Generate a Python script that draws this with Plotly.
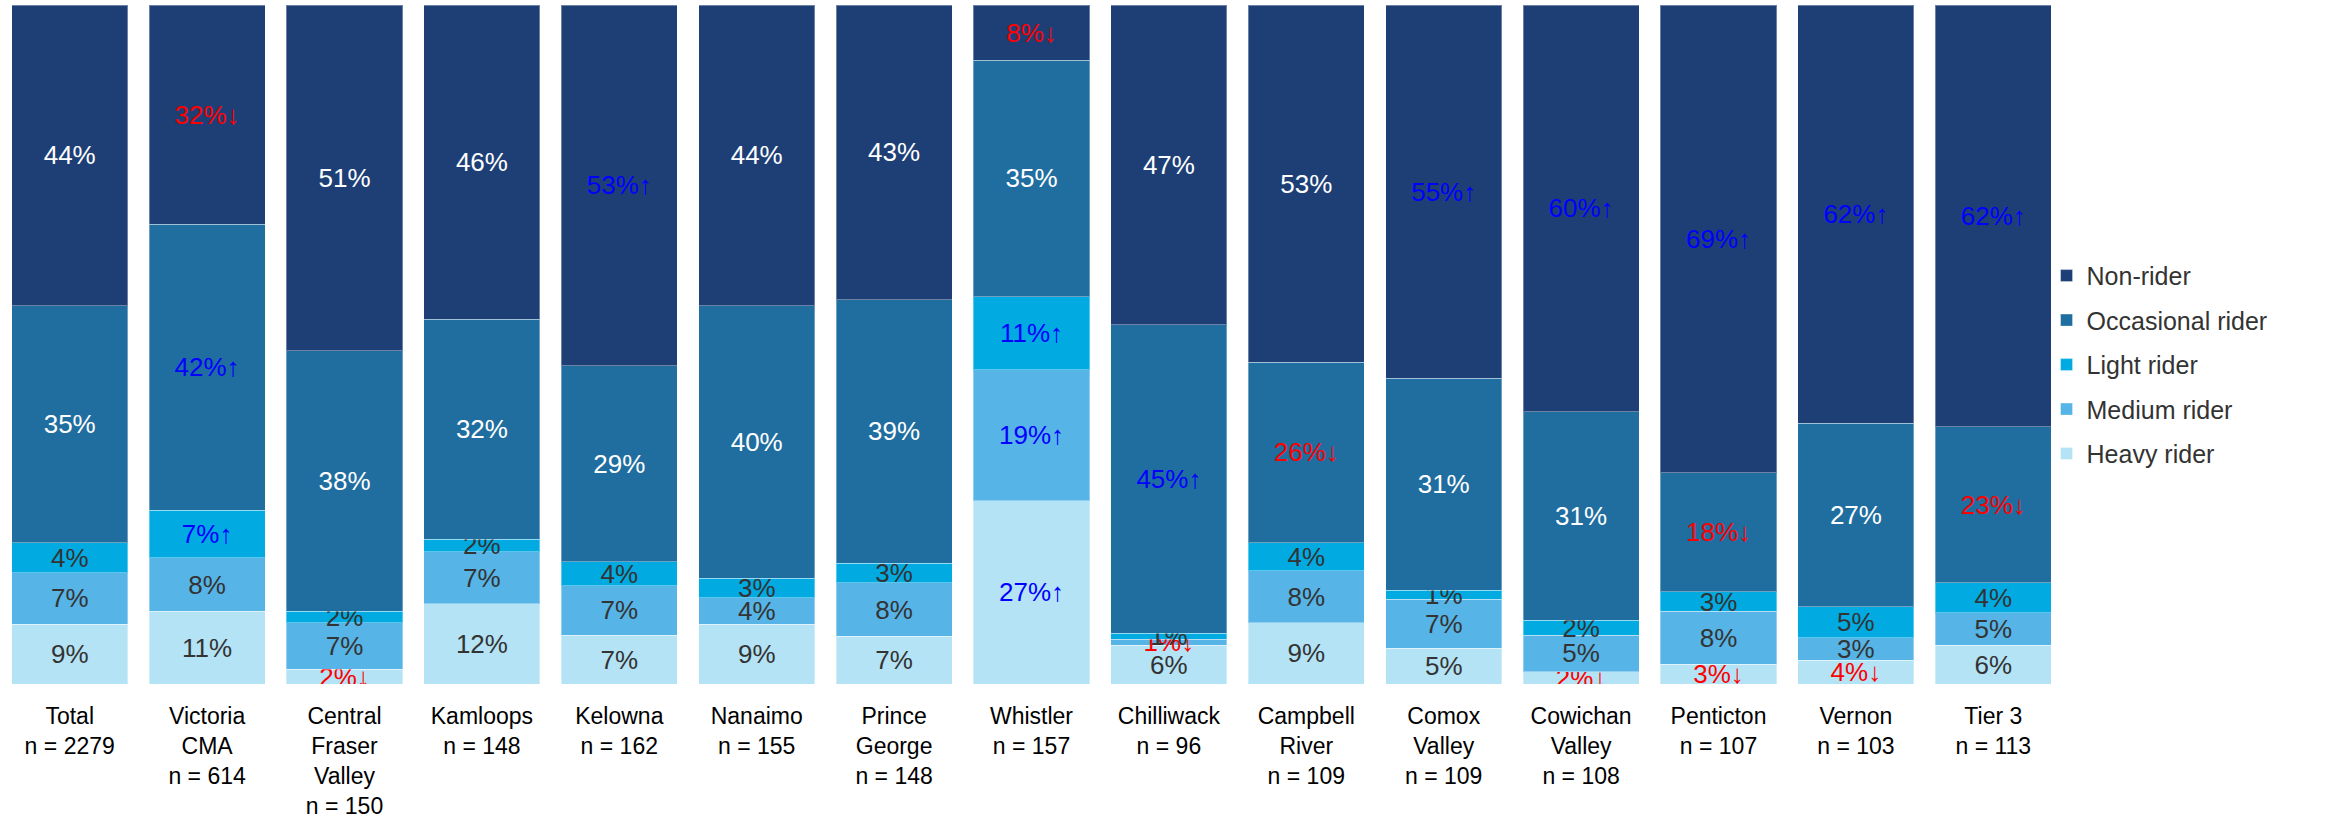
import plotly.graph_objects as go

categories = ["Total<br>n = 2279", "Victoria<br>CMA<br>n = 614", "Central<br>Fraser<br>Valley<br>n = 150",
              "Kamloops<br>n = 148", "Kelowna<br>n = 162", "Nanaimo<br>n = 155", "Prince<br>George<br>n = 148",
              "Whistler<br>n = 157", "Chilliwack<br>n = 96", "Campbell<br>River<br>n = 109",
              "Comox<br>Valley<br>n = 109", "Cowichan<br>Valley<br>n = 108", "Penticton<br>n = 107",
              "Vernon<br>n = 103", "Tier 3<br>n = 113"]

heavy      = [8.8, 10.7, 2.2, 11.8, 7.2, 8.8, 7.0, 27.0, 5.7, 9.0, 5.3, 1.8, 2.9, 3.5, 5.7]
medium     = [7.6, 7.9, 6.8, 7.7, 7.3, 3.9, 7.9, 19.3, 0.9, 7.7, 7.2, 5.4, 7.8, 3.3, 4.8]
light      = [4.4, 7.0, 1.7, 1.8, 3.5, 2.9, 2.9, 10.7, 0.9, 4.1, 1.3, 2.2, 2.9, 4.6, 4.4]
occasional = [34.9, 42.1, 38.4, 32.4, 28.9, 40.1, 38.8, 34.9, 45.4, 26.6, 31.2, 30.7, 17.5, 27.0, 23.0]
nonrider   = [44.3, 32.3, 50.9, 46.3, 53.1, 44.3, 43.4, 8.1, 47.1, 52.6, 55.0, 59.9, 68.9, 61.6, 62.1]

heavy_lbl  = ["9%", "11%", "2%↓", "12%", "7%", "9%", "7%", "27%↑", "6%", "9%", "5%", "2%↓", "3%↓", "4%↓", "6%"]
medium_lbl = ["7%", "8%", "7%", "7%", "7%", "4%", "8%", "19%↑", "1%↓", "8%", "7%", "5%", "8%", "3%", "5%"]
light_lbl  = ["4%", "7%↑", "2%", "2%", "4%", "3%", "3%", "11%↑", "1%", "4%", "1%", "2%", "3%", "5%", "4%"]
occ_lbl    = ["35%", "42%↑", "38%", "32%", "29%", "40%", "39%", "35%", "45%↑", "26%↓", "31%", "31%", "18%↓", "27%", "23%↓"]
non_lbl    = ["44%", "32%↓", "51%", "46%", "53%↑", "44%", "43%", "8%↓", "47%", "53%", "55%↑", "60%↑", "69%↑", "62%↑", "62%↑"]

RED = "#FF0000"
BLUE = "#0000FF"


def label_colors(labels, base):
    out = []
    for t in labels:
        if "↓" in t:
            out.append(RED)
        elif "↑" in t:
            out.append(BLUE)
        else:
            out.append(base)
    return out


series = [
    ("Heavy rider", heavy, heavy_lbl, "#B4E3F5", "#333333"),
    ("Medium rider", medium, medium_lbl, "#56B4E6", "#333333"),
    ("Light rider", light, light_lbl, "#02AAE2", "#333333"),
    ("Occasional rider", occasional, occ_lbl, "#206EA0", "#FFFFFF"),
    ("Non-rider", nonrider, non_lbl, "#1E3F76", "#FFFFFF"),
]

FONT = "Liberation Sans, Arial, sans-serif"

fig = go.Figure()
n_series = len(series)
for i, (name, vals, lbls, col, tcol) in enumerate(series):
    fig.add_trace(go.Bar(
        name=name, x=list(range(len(categories))), y=vals, text=lbls,
        textposition="inside", insidetextanchor="middle", textangle=0,
        constraintext="none",
        textfont=dict(color=label_colors(lbls, tcol), size=26, family=FONT),
        marker=dict(color=col, line=dict(color="rgba(255,255,255,0.35)", width=1)),
        legendgroup="g" + str(n_series - i), legendrank=n_series - i, hoverinfo="skip",
    ))

fig.update_layout(
    barmode="stack", bargap=0.155,
    width=2338, height=818,
    margin=dict(l=1, r=276, t=5, b=134, autoexpand=False),
    paper_bgcolor="white", plot_bgcolor="white",
    font=dict(family=FONT, size=24, color="#000000"),
    showlegend=True,
    legend=dict(traceorder="grouped", x=0.9925, xanchor="left", y=0.47, yanchor="middle",
                bgcolor="rgba(0,0,0,0)",
                font=dict(size=25, color="#333333"), tracegroupgap=9),
    xaxis=dict(tickmode="array", tickvals=list(range(len(categories))), ticktext=categories,
               showgrid=False, zeroline=False, showline=False, ticks="", ticklabelstandoff=16,
               automargin=False,
               range=[-0.5, len(categories) - 0.5], tickfont=dict(size=23, color="#000000")),
    yaxis=dict(range=[0, 100], visible=False, showgrid=False, automargin=False),
)

fig.write_html("out.html", config={"displayModeBar": False},
               post_script="document.body.style.margin='0';")
